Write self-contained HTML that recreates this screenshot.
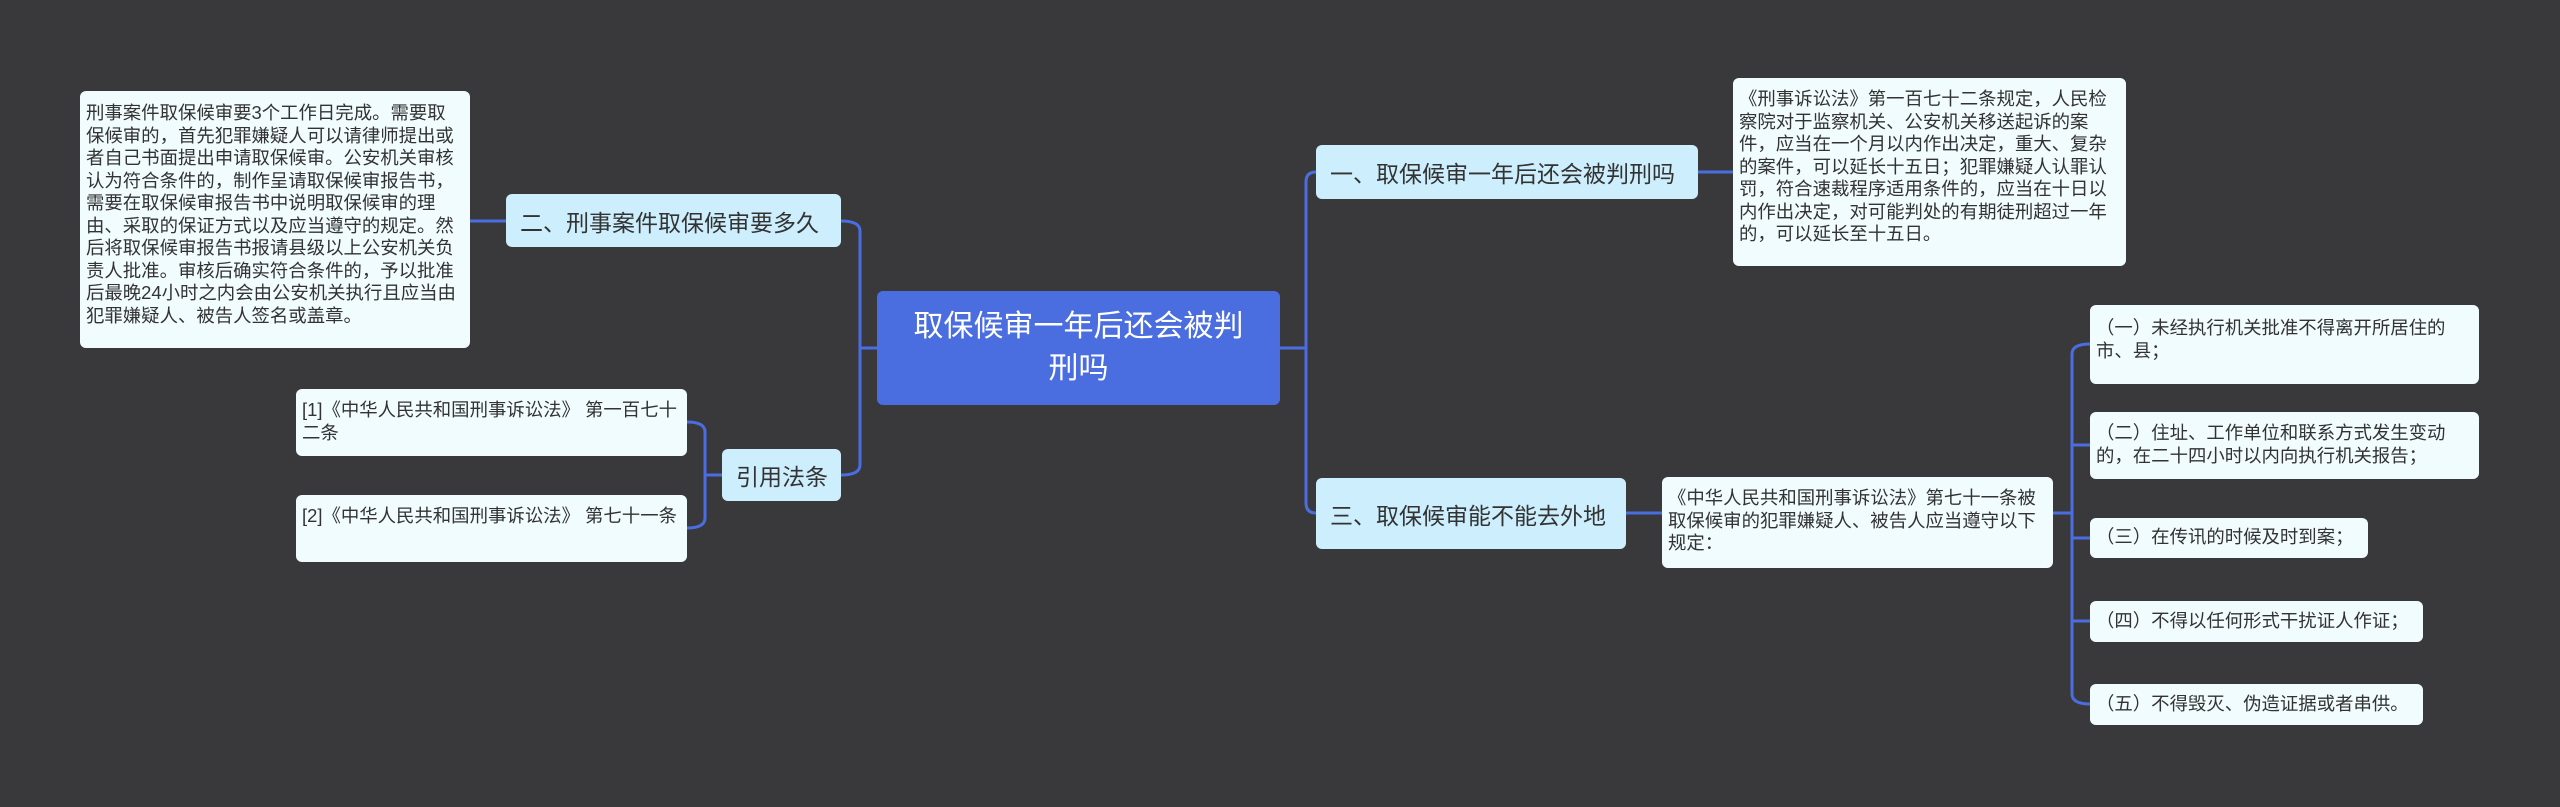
<!DOCTYPE html>
<html><head><meta charset="utf-8"><style>
body{margin:0;width:2560px;height:807px;background:#39383b;position:relative;overflow:hidden;font-family:"Liberation Sans","Noto Sans CJK SC",sans-serif;}
.b{position:absolute;box-sizing:border-box;border-radius:6px;color:#333;}
.n{background:#cdeefc;font-size:23px;display:flex;align-items:center;padding-left:14px;white-space:nowrap;}
.l{background:#f1fcff;font-size:18.4px;line-height:22.5px;padding:6px 6px;word-break:break-all;}
.s{white-space:nowrap;}
.r{background:#4a6de0;color:#fff;font-size:30px;line-height:42px;text-align:center;display:flex;align-items:center;justify-content:center;padding:0 30px;}
</style></head><body>
<svg width="2560" height="807" style="position:absolute;left:0;top:0" fill="none" stroke="#4a6de0" stroke-width="3">
<path d="M1280 348 H1306 M1316 172 H1316 Q1306 172 1306 182 V503 Q1306 513 1316 513"/>
<path d="M877 348 H860 M841 221 Q860 221 860 231 V465 Q860 475 841 475"/>
<path d="M470 221 H506"/>
<path d="M722 475 H705 M687 422 Q705 422 705 432 V518 Q705 528 687 528"/>
<path d="M1698 172 H1733"/>
<path d="M1626 513 H1662"/>
<path d="M2053 513 H2072 M2090 344 Q2072 344 2072 354 V694 Q2072 704 2090 704 M2072 445 H2090 M2072 538 H2090 M2072 621 H2090"/>
</svg>
<div class="b r" style="left:877px;top:291px;width:403px;height:114px">取保候审一年后还会被判刑吗</div>
<div class="b l" style="left:80px;top:91px;width:390px;height:257px;padding-top:11px">刑事案件取保候审要3个工作日完成。需要取保候审的，首先犯罪嫌疑人可以请律师提出或者自己书面提出申请取保候审。公安机关审核认为符合条件的，制作呈请取保候审报告书，需要在取保候审报告书中说明取保候审的理由、采取的保证方式以及应当遵守的规定。然后将取保候审报告书报请县级以上公安机关负责人批准。审核后确实符合条件的，予以批准后最晚24小时之内会由公安机关执行且应当由犯罪嫌疑人、被告人签名或盖章。</div>
<div class="b n" style="left:506px;top:194px;width:335px;height:53px">二、刑事案件取保候审要多久</div>
<div class="b n" style="left:722px;top:449px;width:119px;height:52px">引用法条</div>
<div class="b l" style="left:296px;top:389px;width:391px;height:67px;padding-top:10px">[1]《中华人民共和国刑事诉讼法》 第一百七十二条</div>
<div class="b l" style="left:296px;top:495px;width:391px;height:67px;padding-top:10px">[2]《中华人民共和国刑事诉讼法》 第七十一条</div>
<div class="b n" style="left:1316px;top:145px;width:382px;height:54px">一、取保候审一年后还会被判刑吗</div>
<div class="b l" style="left:1733px;top:78px;width:393px;height:188px;padding-top:10px">《刑事诉讼法》第一百七十二条规定，人民检察院对于监察机关、公安机关移送起诉的案件，应当在一个月以内作出决定，重大、复杂的案件，可以延长十五日；犯罪嫌疑人认罪认罚，符合速裁程序适用条件的，应当在十日以内作出决定，对可能判处的有期徒刑超过一年的，可以延长至十五日。</div>
<div class="b n" style="left:1316px;top:478px;width:310px;height:71px">三、取保候审能不能去外地</div>
<div class="b l" style="left:1662px;top:477px;width:391px;height:91px;padding-top:10px">《中华人民共和国刑事诉讼法》第七十一条被取保候审的犯罪嫌疑人、被告人应当遵守以下规定：</div>
<div class="b l" style="left:2090px;top:305px;width:389px;height:79px;padding:12px 3px 0 6px">（一）未经执行机关批准不得离开所居住的市、县；</div>
<div class="b l" style="left:2090px;top:412px;width:389px;height:67px;padding:10px 3px 0 6px">（二）住址、工作单位和联系方式发生变动的，在二十四小时以内向执行机关报告；</div>
<div class="b l s" style="left:2090px;top:518px;width:278px;height:40px;padding-top:8px">（三）在传讯的时候及时到案；</div>
<div class="b l s" style="left:2090px;top:601px;width:333px;height:41px;padding-top:9px">（四）不得以任何形式干扰证人作证；</div>
<div class="b l s" style="left:2090px;top:684px;width:333px;height:41px;padding-top:9px">（五）不得毁灭、伪造证据或者串供。</div>
</body></html>
